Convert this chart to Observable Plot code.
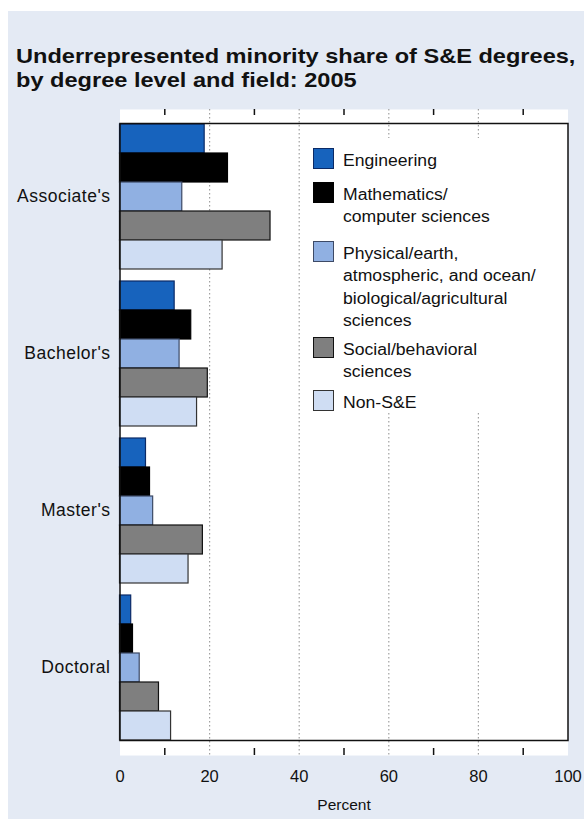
<!DOCTYPE html>
<html><head><meta charset="utf-8">
<script src="https://cdn.jsdelivr.net/npm/d3@7"></script>
<script src="https://cdn.jsdelivr.net/npm/@observablehq/plot@0.6"></script>
<style>
body{margin:0;background:#fff;}
#wrap{position:relative;width:584px;height:819px;overflow:hidden;font-family:"Liberation Sans",Arial,Helvetica,sans-serif;color:#111;}
#bg{position:absolute;left:8px;top:11px;right:0;bottom:0;background:#e4eaf4;}
#title{position:absolute;left:16px;top:44px;font-weight:bold;font-size:20.5px;line-height:24px;transform:scaleX(1.15);transform-origin:0 0;white-space:nowrap;}
#axes,#chart{position:absolute;left:0;top:90px;}
#chart text.deg{letter-spacing:0.5px;}
#legend{position:absolute;left:305px;top:138px;width:242px;height:273px;background:#fff;}
.sw{position:absolute;left:8px;width:19px;height:19px;border:1px solid #222;box-sizing:content-box;}
.lt{position:absolute;left:38px;font-size:16px;line-height:22.5px;transform:scaleX(1.1);transform-origin:0 0;white-space:nowrap;}
</style></head>
<body>
<div id="wrap">
<div id="bg"></div>
<div id="title">Underrepresented minority share of S&amp;E degrees,<br>by degree level and field: 2005</div>
<div id="axes"></div>
<div id="chart"></div>
<div id="legend"></div>
</div>
<script>
const degrees = ["Associate's", "Bachelor's", "Master's", "Doctoral"];
const fields = ["Engineering", "Mathematics/computer sciences", "Physical/earth, atmospheric, and ocean/biological/agricultural sciences", "Social/behavioral sciences", "Non-S&E"];
const legendLines = [["Engineering"], ["Mathematics/", "computer sciences"], ["Physical/earth,", "atmospheric, and ocean/", "biological/agricultural", "sciences"], ["Social/behavioral", "sciences"], ["Non-S&E"]];
const engineering = [18.9, 12.2, 5.8, 2.5];
const mathematics = [24.1, 15.9, 6.7, 2.9];
const physical = [13.9, 13.3, 7.4, 4.4];
const social = [33.6, 19.6, 18.5, 8.7];
const nonSE = [22.9, 17.2, 15.3, 11.4];
const xTicks = [0, 20, 40, 60, 80, 100];
const gridTicks = [20, 40, 60, 80];
const minorTicks = [10, 30, 50, 70, 90];
const fillColors = ["#1763bd", "#000000", "#90b0e2", "#7f7f7f", "#cfddf3"];
const strokeColors = ["#0b2a66", "#000000", "#3d4a66", "#111111", "#333333"];
const legendTops = [148, 182, 241, 337, 390];

const series = [engineering, mathematics, physical, social, nonSE];
const data = degrees.flatMap((d, i) => fields.map((f, j) => ({degree: d, field: f, k: j, value: series[j][i]})));

const W = 584, H = 729, mT = 19, mB = 64, mL = 119.5, mR = 16.5;
const plotH = H - mT - mB;
const common = {
  width: W, height: H,
  marginTop: mT, marginBottom: mB, marginLeft: mL, marginRight: mR,
  style: {background: "transparent", fontFamily: "Liberation Sans, Arial, sans-serif", fontSize: "16px", color: "#111"},
  x: {domain: [0, 100], axis: null}
};

// Background layer: plot area, grid, ticks and x labels
const axes = Plot.plot({
  ...common,
  marks: [
    Plot.frame({fill: "white", stroke: "none"}),
    Plot.ruleX(gridTicks, {x: d => d, stroke: "#a0a0a0", strokeDasharray: "1.5,2.5", strokeWidth: 1.2}),
    Plot.tickX(minorTicks, {x: d => d, insetBottom: plotH - 6, stroke: "#111", strokeWidth: 1.5}),
    Plot.tickX(minorTicks, {x: d => d, insetTop: plotH - 7, stroke: "#111", strokeWidth: 1.5}),
    Plot.text(xTicks, {x: d => d, frameAnchor: "bottom", lineAnchor: "middle", dy: 21, fontSize: 16.5, fill: "#111"}),
    Plot.text(["Percent"], {frameAnchor: "bottom", lineAnchor: "middle", dy: 50, fontSize: 15.5, fill: "#111"})
  ]
});
document.getElementById("axes").appendChild(axes);

// Foreground layer: faceted bars
const chart = Plot.plot({
  ...common,
  fy: {domain: degrees, paddingInner: 0.0675, paddingOuter: 0.09, axis: null},
  y: {domain: fields, padding: 0, axis: null},
  marks: [
    Plot.barX(data, {x: "value", y: "field", fy: "degree", fill: d => fillColors[d.k], stroke: d => strokeColors[d.k], strokeWidth: 1.2}),
    Plot.text(degrees, {fy: d => d, frameAnchor: "left", lineAnchor: "middle", dx: -9.5, textAnchor: "end", fontSize: 17.5, fill: "#111", className: "deg"}),
    Plot.frame({facet: "super", stroke: "#111", strokeWidth: 1.5})
  ]
});
document.getElementById("chart").appendChild(chart);
chart.querySelectorAll("g[aria-label='text'] text").forEach(t => t.style.letterSpacing = "0.5px");

const legend = document.getElementById("legend");
fields.forEach((f, j) => {
  const top = legendTops[j] - 138;
  const sw = document.createElement("div");
  sw.className = "sw";
  sw.style.top = top + "px";
  sw.style.background = fillColors[j];
  sw.style.borderColor = strokeColors[j];
  legend.appendChild(sw);
  const t = document.createElement("div");
  t.className = "lt";
  t.style.top = (top + 1.5) + "px";
  t.innerHTML = legendLines[j].map(s => s.replace(/&/g, "&amp;")).join("<br>");
  legend.appendChild(t);
});
</script>
</body></html>
